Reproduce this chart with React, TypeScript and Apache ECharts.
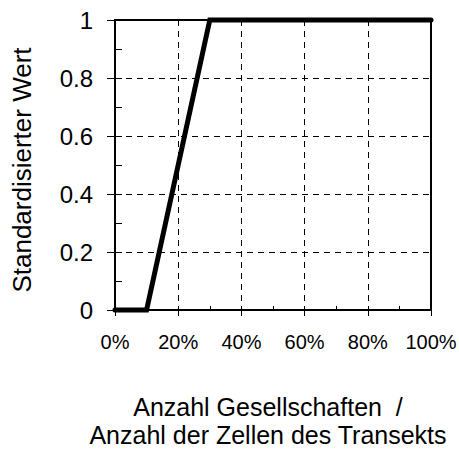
import React, { useEffect, useRef } from "react";
import * as echarts from "echarts";

const xValues = [0, 0.1, 0.3, 1];
const yValues = [0, 0, 1, 1];
const yAxisTitle = "Standardisierter Wert";
const xAxisTitleLines = ["Anzahl Gesellschaften  /", "Anzahl der Zellen des Transekts"];

const FONT = "Liberation Sans, Arial, sans-serif";

export default function App() {
  const ref = useRef<HTMLDivElement>(null);
  useEffect(() => {
    if (!ref.current) return;
    const chart = echarts.init(ref.current, null, { renderer: "svg" });
    const data = xValues.map((x, i) => [x, yValues[i]]);
    chart.setOption({
      animation: false,
      backgroundColor: "#ffffff",
      textStyle: { fontFamily: FONT },
      grid: {
        left: 115,
        right: 28,
        top: 20,
        bottom: 140,
        show: true,
        borderColor: "#000",
        borderWidth: 2,
        containLabel: false,
        outerBoundsMode: "none",
      },
      xAxis: [
        {
          type: "value",
          min: 0,
          max: 1,
          interval: 0.2,
          position: "bottom",
          axisLine: { show: true, onZero: false, lineStyle: { color: "#000", width: 2 } },
          axisTick: { show: true, inside: false, length: 6, lineStyle: { color: "#000", width: 1 } },
          axisLabel: {
            margin: 22,
            fontSize: 20,
            color: "#000",
            fontFamily: FONT,
            formatter: (v: number) => Math.round(v * 100) + "%",
          },
          splitLine: { show: true, lineStyle: { color: "#000", width: 1, type: [6, 5] } },
          name: xAxisTitleLines.join("\n"),
          nameLocation: "middle",
          nameGap: 83,
          nameTextStyle: {
            fontSize: 25,
            color: "#000",
            fontFamily: FONT,
            lineHeight: 28,
            verticalAlign: "top",
            padding: [0, 10, 0, 0],
          },
        },
        {
          type: "value",
          min: 0,
          max: 1,
          interval: 0.1,
          position: "bottom",
          offset: 0,
          axisLine: { show: false },
          axisTick: { show: true, inside: true, length: 4, lineStyle: { color: "#000", width: 1 } },
          axisLabel: { show: false },
          splitLine: { show: false },
        },
      ],
      yAxis: [
        {
          type: "value",
          min: 0,
          max: 1,
          interval: 0.2,
          position: "left",
          axisLine: { show: true, onZero: false, lineStyle: { color: "#000", width: 2 } },
          axisTick: { show: true, inside: false, length: 8, lineStyle: { color: "#000", width: 1 } },
          axisLabel: {
            margin: 22,
            fontSize: 24,
            color: "#000",
            fontFamily: FONT,
            formatter: (v: number) => String(Math.round(v * 10) / 10),
          },
          splitLine: { show: true, lineStyle: { color: "#000", width: 1, type: [6, 5] } },
          name: yAxisTitle,
          nameLocation: "middle",
          nameRotate: 90,
          nameGap: 80,
          nameTextStyle: { fontSize: 26, color: "#000", fontFamily: FONT, padding: [0, 10, 0, 0] },
        },
        {
          type: "value",
          min: 0,
          max: 1,
          interval: 0.1,
          position: "left",
          offset: 0,
          axisLine: { show: false },
          axisTick: { show: true, inside: true, length: 7, lineStyle: { color: "#000", width: 1 } },
          axisLabel: { show: false },
          splitLine: { show: false },
        },
      ],
      series: [
        {
          type: "line",
          data,
          xAxisIndex: 0,
          yAxisIndex: 0,
          symbol: "none",
          lineStyle: { color: "#000", width: 5, cap: "round", join: "miter" },
          clip: false,
        },
      ],
    });
    return () => chart.dispose();
  }, []);
  return (
    <div
      ref={ref}
      style={{ position: "fixed", left: 0, top: 0, width: 459, height: 450 }}
    />
  );
}
